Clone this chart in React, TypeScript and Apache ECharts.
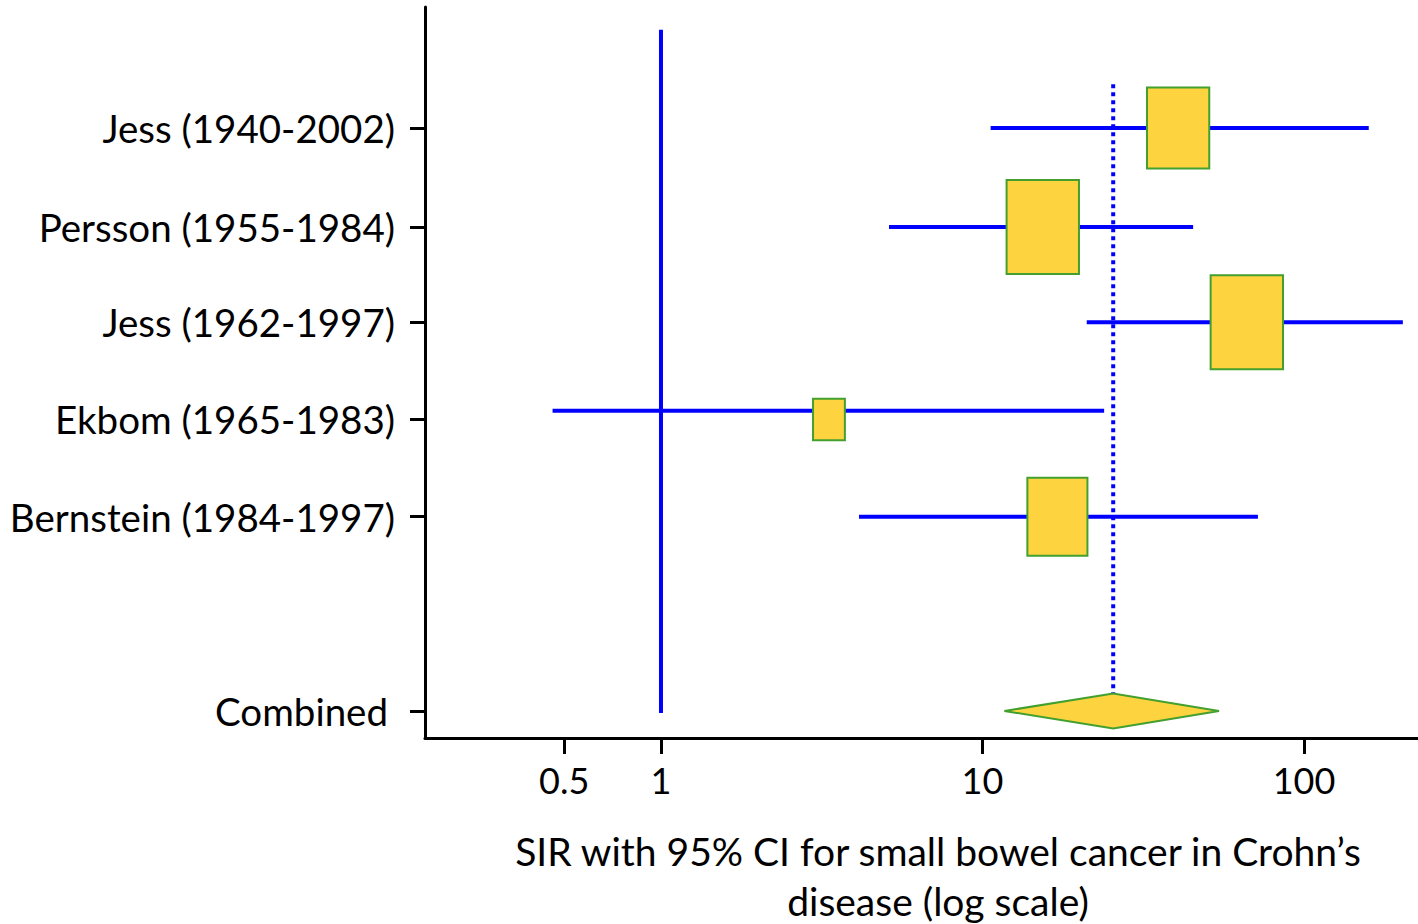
import React, { useEffect, useRef } from "react";
import * as echarts from "echarts";

// Study data (SIR with 95% CI)
const studies = [
  "Jess (1940-2002)",
  "Persson (1955-1984)",
  "Jess (1962-1997)",
  "Ekbom (1965-1983)",
  "Bernstein (1984-1997)",
];
const sir = [40.6, 15.4, 66.4, 3.33, 17.1];
const lower = [10.6, 5.12, 21.1, 0.46, 4.13];
const upper = [159, 45.2, 203, 23.9, 71.9];
// relative study weight (drives box size)
const weights = [0.86, 1, 1, 0.44, 0.83];
// row positions on the vertical axis
const rowPos = [7, 5.98, 5, 4, 3];
const ciRowPos = [7, 5.98, 5, 4.09, 3];

const combinedLabel = "Combined";
const combinedSir = 25.5;
const combinedLower = 11.7;
const combinedUpper = 54.4;
const combinedRow = 1;

const xTicks = [0.5, 1, 10, 100];
const refValue = 1;
const refLineExtent = [0.98, 8.01];
const pooledLineExtent = [7.45, 1];

const FONT = "Lato";
const BLUE = "#0000FF";
const FILL = "#FDD43F";
const EDGE = "#43A02E";

const lg = (v: number) => Math.log10(v);

export default function App() {
  const ref = useRef<HTMLDivElement>(null);
  useEffect(() => {
    if (!ref.current) return;
    const chart = echarts.init(ref.current, null, { renderer: "svg" });

    const labelValues = [...rowPos, combinedRow];
    const labelNames = [...studies, combinedLabel];

    const ciData = studies.map((_, i) => [lg(lower[i]), lg(upper[i]), ciRowPos[i]]);
    const boxData = studies.map((_, i) => [lg(sir[i]), rowPos[i], weights[i]]);
    const diamondData = [[lg(combinedSir), lg(combinedLower), lg(combinedUpper), combinedRow]];

    const option: any = {
      animation: false,
      backgroundColor: "#ffffff",
      grid: { left: 425, right: 0, top: 7, bottom: 186, containLabel: false },
      xAxis: {
        type: "value",
        min: -0.734,
        max: 2.3546,
        splitLine: { show: false },
        axisLine: { show: true, onZero: false, lineStyle: { color: "#000", width: 3 } },
        axisTick: {
          show: true,
          length: 16,
          lineStyle: { color: "#000", width: 3 },
          customValues: xTicks.map(lg),
        },
        axisLabel: {
          customValues: xTicks.map(lg),
          formatter: (v: number) => {
            const x = Math.pow(10, v);
            return String(Math.round(x * 10) / 10);
          },
          color: "#000",
          fontFamily: FONT,
          fontSize: 36,
          margin: 24,
        },
      },
      yAxis: {
        type: "value",
        min: 0.722,
        max: 8.245,
        splitLine: { show: false },
        axisLine: { show: true, onZero: false, lineStyle: { color: "#000", width: 3 } },
        axisTick: {
          show: true,
          length: 15,
          lineStyle: { color: "#000", width: 3 },
          customValues: labelValues,
        },
        axisLabel: {
          customValues: labelValues,
          formatter: (v: number) => {
            const idx = labelValues.findIndex((p) => Math.abs(p - v) < 1e-6);
            if (idx < 0) return "";
            const name = labelNames[idx];
            return name === combinedLabel ? "{c|" + name + "}" : name;
          },
          rich: { c: { fontFamily: FONT, fontSize: 38.5, color: "#000", padding: [0, 7, 0, 0] } },
          color: "#000",
          fontFamily: FONT,
          fontSize: 38.5,
          margin: 30,
        },
      },
      series: [
        {
          type: "line",
          data: refLineExtent.map((y) => [lg(refValue), y]),
          showSymbol: false,
          symbol: "none",
          lineStyle: { color: BLUE, width: 4 },
          z: 1,
        },
        {
          type: "custom",
          data: ciData,
          renderItem: (params: any, api: any) => {
            const a = api.coord([api.value(0), api.value(2)]);
            const b = api.coord([api.value(1), api.value(2)]);
            return {
              type: "line",
              shape: { x1: a[0], y1: a[1], x2: b[0], y2: b[1] },
              style: { stroke: BLUE, lineWidth: 4 },
            };
          },
          z: 2,
        },
        {
          type: "line",
          data: pooledLineExtent.map((y) => [lg(combinedSir), y]),
          showSymbol: false,
          symbol: "none",
          lineStyle: { color: BLUE, width: 4, type: [4, 4], cap: "butt" },
          z: 3,
        },
        {
          type: "custom",
          data: boxData,
          renderItem: (params: any, api: any) => {
            const c = api.coord([api.value(0), api.value(1)]);
            const h = 94 * api.value(2);
            const w = h * 0.77;
            return {
              type: "rect",
              shape: { x: c[0] - w / 2, y: c[1] - h / 2, width: w, height: h },
              style: { fill: FILL, stroke: EDGE, lineWidth: 2 },
            };
          },
          z: 4,
        },
        {
          type: "custom",
          data: diamondData,
          renderItem: (params: any, api: any) => {
            const m = api.coord([api.value(0), api.value(3)]);
            const l = api.coord([api.value(1), api.value(3)]);
            const r = api.coord([api.value(2), api.value(3)]);
            const hh = 17.5;
            return {
              type: "polygon",
              shape: {
                points: [
                  [l[0], m[1]],
                  [m[0], m[1] - hh],
                  [r[0], m[1]],
                  [m[0], m[1] + hh],
                ],
              },
              style: { fill: FILL, stroke: EDGE, lineWidth: 2 },
            };
          },
          z: 5,
        },
      ],
      graphic: [
        {
          type: "text",
          x: 938,
          y: 876,
          style: {
            text: "SIR with 95% CI for small bowel cancer in Crohn\u2019s\ndisease (log scale)",
            fontFamily: FONT,
            fontSize: 39,
            lineHeight: 50,
            fill: "#000",
            textAlign: "center",
            textVerticalAlign: "middle",
          },
        },
      ],
    };
    chart.setOption(option);
    return () => chart.dispose();
  }, []);

  return (
    <div
      ref={ref}
      style={{ position: "fixed", left: 0, top: 0, width: 1418, height: 924 }}
    />
  );
}
